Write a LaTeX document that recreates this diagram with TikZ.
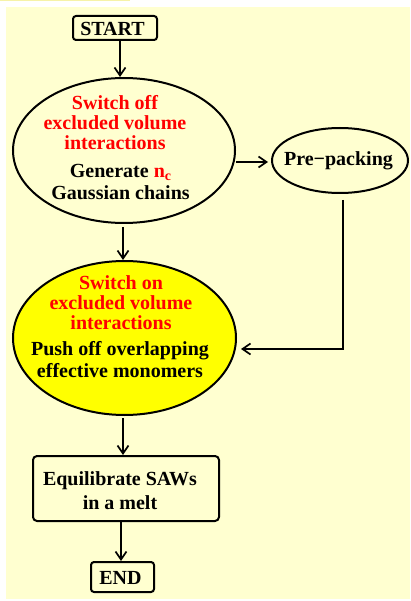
\documentclass[tikz,border=0pt]{standalone}
\usepackage{fontspec}
\setmainfont{Liberation Serif}
\usetikzlibrary{shapes.geometric,arrows.meta,calc}
\definecolor{bgyel}{HTML}{FFFFD0}
\definecolor{topyel}{HTML}{F6F2A8}
\definecolor{hiyel}{HTML}{FFFF00}
\definecolor{redtxt}{HTML}{FF0000}
\tikzset{
  txt/.style={font=\fontsize{20}{20}\selectfont\bfseries, align=center, inner sep=0pt},
  redtext/.style={txt, text=redtxt},
  blacktext/.style={txt, text=black, font=\fontsize{20}{22}\selectfont\bfseries},
  box/.style={draw=black, line width=2pt, rounded corners=3pt, inner sep=0pt,
     font=\fontsize{20}{20}\selectfont\bfseries},
  oval/.style={draw=black, line width=2pt, ellipse, inner sep=0pt},
  arr/.style={line width=2pt, -{Straight Barb[length=8pt,width=11pt,line width=1.7pt]}}
}
\begin{document}
\begin{tikzpicture}[x=1pt,y=-1pt]
\useasboundingbox (0,0) rectangle (410,601);
\fill[topyel] (0,0) rectangle (130,1.2);
\fill[bgyel] (6,7) rectangle (410,599);

% nodes
\node[box, minimum width=84pt, minimum height=24pt] (start) at (115,28) {};
\node[txt] (starttxt) at (112.5,29) {START};

\node[oval, minimum width=222pt, minimum height=145pt] (e1) at (124,150.5) {};
\node[redtext] (e1red) at (115,123) {Switch off\\excluded volume\\interactions};
\node[blacktext] (e1blk) at (120.5,182) {Generate \textcolor{redtxt}{n\raisebox{-3.5pt}{\fontsize{14}{14}\selectfont c}}\\Gaussian chains};

\node[oval, minimum width=136pt, minimum height=65pt] (pp) at (340,160.5) {};
\node[txt] (pptxt) at (338.5,161) {Pre\symbol{"2212}packing};

\node[oval, fill=hiyel, minimum width=223pt, minimum height=154pt] (e2) at (124.5,338) {};
\node[redtext] (e2red) at (121,303) {Switch on\\excluded volume\\interactions};
\node[blacktext] (e2blk) at (120,360) {Push off overlapping\\effective monomers};

\node[box, minimum width=186pt, minimum height=65pt, rounded corners=4pt] (eq) at (126,488.5) {};
\node[blacktext, font=\fontsize{20}{24}\selectfont\bfseries] (eqtxt) at (120,491) {Equilibrate SAWs\\in a melt};

\node[box, minimum width=63pt, minimum height=30pt] (end) at (122.5,577) {};
\node[txt] (endtxt) at (120.5,578) {END};

\coordinate (j) at (343,349);

% connectors
\draw[arr] ([xshift=5pt]start.south) -- ([xshift=5pt]start.south |- e1.north);
\draw[arr, shorten >=3pt] ([yshift=-1.5pt]pp.west -| e1.east) -- ([yshift=-1.5pt]pp.west);
\draw[arr, shorten <=3pt] ([xshift=-1pt]e1.south) -- ([xshift=-1pt]e1.south |- e2.north);
\draw[arr, shorten <=6pt, shorten >=4pt] (pp.south -| j) -- (j) -- (j -| e2.east);
\draw[arr, shorten <=2pt] ([xshift=-1.5pt]e2.south) -- ([xshift=-1.5pt]e2.south |- eq.north);
\draw[arr] ([xshift=-1.5pt]end.north |- eq.south) -- ([xshift=-1.5pt]end.north);
\end{tikzpicture}
\end{document}
